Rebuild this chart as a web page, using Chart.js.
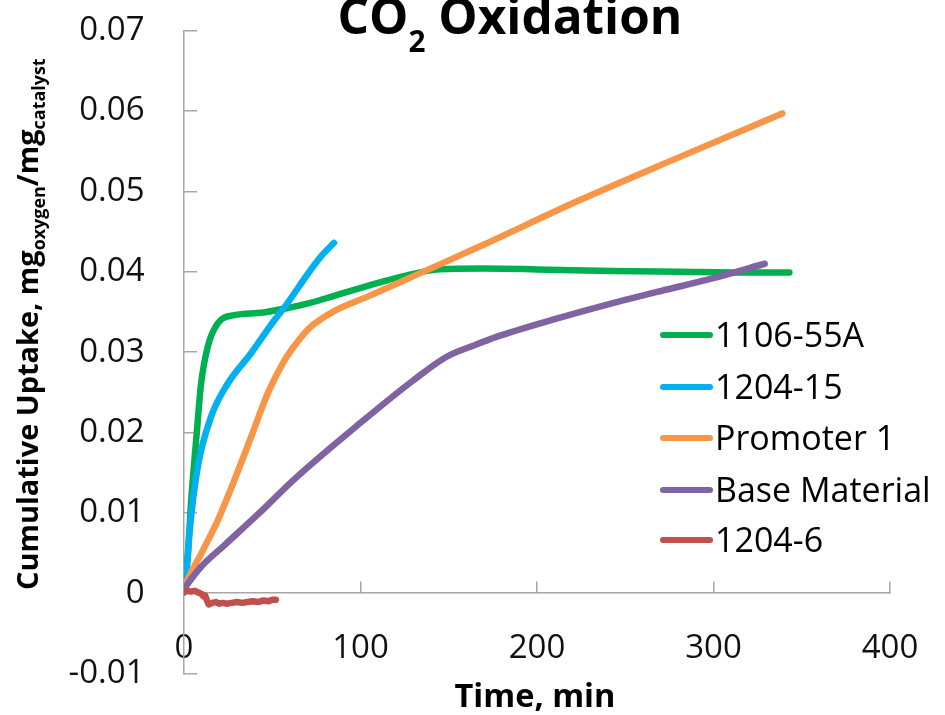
<!DOCTYPE html>
<html>
<head>
<meta charset="utf-8">
<script src="https://cdn.jsdelivr.net/npm/chart.js@4.4.1/dist/chart.umd.min.js"></script>
<style>
html,body{margin:0;padding:0;background:#ffffff;}
#wrap{width:945px;height:715px;position:relative;}
</style>
</head>
<body>
<div id="wrap"><canvas id="c" width="945" height="715"></canvas></div>
<script>
// ---------- DATA ----------
const seriesNames  = ['1106-55A', '1204-15', 'Promoter 1', 'Base Material', '1204-6'];
const seriesColors = ['#00b050', '#00b0f0', '#f79646', '#8064a2', '#c0504d'];

const time1106 = [0, 1, 2.2, 4.1, 6.9, 9.7, 13.5, 19.2, 28.6, 43.8, 58.7, 71, 85, 105, 125, 145, 170, 200, 243, 280, 320, 343];
const uptake1106 = [0.0005, 0.0025, 0.0049, 0.0116, 0.0191, 0.0261, 0.0307, 0.0336, 0.0346, 0.0349, 0.0355, 0.0361, 0.0370, 0.0383, 0.0395, 0.0403, 0.0404, 0.0403, 0.0401, 0.0400, 0.0399, 0.0399];

const time120415 = [0, 1, 3.1, 7.8, 15.4, 24.8, 38.1, 51.3, 57, 71, 78, 85];
const uptake120415 = [0.0005, 0.0012, 0.0075, 0.0157, 0.0220, 0.0261, 0.0299, 0.0340, 0.0356, 0.0400, 0.0420, 0.0436];

const timePromoter = [0, 1.2, 9.7, 19.2, 28.6, 38.1, 47.5, 57, 62.6, 71, 85, 105, 133.5, 170, 224, 281, 339];
const uptakePromoter = [0.0003, 0.0012, 0.0049, 0.0091, 0.0141, 0.0195, 0.0249, 0.0290, 0.0308, 0.0330, 0.0351, 0.0370, 0.0398, 0.0434, 0.0489, 0.0543, 0.0597];

const timeBase = [0, 1.2, 9.7, 23, 41.8, 62.6, 100, 130, 148.6, 165, 177, 210, 243, 270, 300, 329];
const uptakeBase = [0.0005, 0.0009, 0.0033, 0.0060, 0.0098, 0.0142, 0.0212, 0.0265, 0.0294, 0.0309, 0.0319, 0.0341, 0.0361, 0.0376, 0.0392, 0.0410];

const time12046 = [0, 2, 4, 6, 8, 10, 11, 12, 13, 14, 16, 18, 20, 22, 24, 27, 30, 33, 36, 39, 42, 45, 48, 50, 52];
const uptake12046 = [0.0001, 0.0003, 0.0002, 0.0003, 0.0001, -0.0001, -0.0004, -0.0003, -0.0009, -0.0014, -0.0012, -0.0011, -0.0013, -0.0012, -0.0013, -0.0012, -0.0011, -0.0012, -0.0011, -0.0010, -0.0011, -0.0009, -0.0010, -0.0008, -0.0008];

const seriesTimes   = [time1106, time120415, timePromoter, timeBase, time12046];
const seriesUptakes = [uptake1106, uptake120415, uptakePromoter, uptakeBase, uptake12046];

const xMin = 0, xMax = 400, xStep = 100;
const yMin = -0.01, yMax = 0.07, yStep = 0.01;

const chartTitleParts = [{t: 'CO', s: 1}, {t: '2', s: 0.6, dy: 0.36}, {t: ' Oxidation', s: 1}];
const yTitleParts = [{t: 'Cumulative Uptake, mg', s: 1}, {t: 'oxygen', s: 0.62, dy: 0.25}, {t: '/mg', s: 1}, {t: 'catalyst', s: 0.62, dy: 0.25}];
const xTitleParts = [{t: 'Time, min', s: 1}];

// ---------- helpers ----------
const FAMILY = '"Open Sans", "Liberation Sans", sans-serif';
const AXIS_COLOR = '#a6a6a6';

function toPoints(ts, vs) { return ts.map((t, i) => ({x: t, y: vs[i]})); }

function richWidth(ctx, parts, size, weight) {
  let w = 0;
  for (const p of parts) { ctx.font = weight + ' ' + (size * p.s) + 'px ' + FAMILY; w += ctx.measureText(p.t).width; }
  return w;
}
function drawRich(ctx, parts, cx, by, targetW, weight, color) {
  const base = 40;
  const size = base * targetW / richWidth(ctx, parts, base, weight);
  let x = cx - targetW / 2;
  ctx.fillStyle = color; ctx.textAlign = 'left'; ctx.textBaseline = 'alphabetic';
  for (const p of parts) {
    ctx.font = weight + ' ' + (size * p.s) + 'px ' + FAMILY;
    ctx.fillText(p.t, x, by + (p.dy || 0) * size);
    x += ctx.measureText(p.t).width;
  }
}

const decor = {
  id: 'decor',
  afterDraw(chart) {
    const ctx = chart.ctx;
    ctx.save();
    // chart title
    drawRich(ctx, chartTitleParts, 510, 34, 345, 'bold', '#000');
    // x axis title
    drawRich(ctx, xTitleParts, 535, 707, 161, 'bold', '#000');
    // y axis title (rotated)
    ctx.save();
    ctx.translate(38, 324);
    ctx.rotate(-Math.PI / 2);
    drawRich(ctx, yTitleParts, 0, 0, 532, 'bold', '#000');
    ctx.restore();
    // legend
    const rowY = [335, 387, 438, 490, 540];
    chart.data.datasets.forEach((ds, i) => {
      const y = rowY[i];
      ctx.strokeStyle = ds.borderColor; ctx.lineWidth = 6; ctx.lineCap = 'round';
      ctx.beginPath(); ctx.moveTo(663, y); ctx.lineTo(710, y); ctx.stroke();
      ctx.fillStyle = '#000'; ctx.font = '34px ' + FAMILY;
      ctx.textAlign = 'left'; ctx.textBaseline = 'alphabetic';
      ctx.fillText(ds.label, 715, y + 12);
    });
    ctx.restore();
  }
};

const datasets = seriesNames.map((name, i) => ({
  label: name,
  data: toPoints(seriesTimes[i], seriesUptakes[i]),
  borderColor: seriesColors[i],
  backgroundColor: seriesColors[i],
  borderWidth: 6.5,
  borderCapStyle: 'round',
  borderJoinStyle: 'round',
  showLine: true,
  pointRadius: 0,
  pointHoverRadius: 0,
  cubicInterpolationMode: i === 4 ? 'default' : 'monotone',
  tension: 0,
  order: seriesNames.length - i
}));

new Chart(document.getElementById('c'), {
  type: 'scatter',
  data: {datasets},
  options: {
    responsive: false,
    animation: false,
    devicePixelRatio: 1,
    layout: {padding: {top: 30.7, right: 55, bottom: 41.4, left: 0}},
    plugins: {legend: {display: false}, tooltip: {enabled: false}, title: {display: false}},
    scales: {
      x: {
        type: 'linear',
        min: xMin, max: xMax,
        position: {y: 0},
        afterFit(s) { s.paddingLeft = 0; s.paddingRight = 0; },
        ticks: {stepSize: xStep, color: '#111', font: {family: FAMILY, size: 33}, padding: 48, maxRotation: 0},
        grid: {display: true, drawOnChartArea: false, drawTicks: true, tickLength: -12, color: AXIS_COLOR, lineWidth: 1.5},
        border: {display: true, color: AXIS_COLOR, width: 1.5}
      },
      y: {
        type: 'linear',
        min: yMin, max: yMax,
        position: 'left',
        afterFit(s) { s.width = 184; s.paddingTop = 0; s.paddingBottom = 0; },
        ticks: {
          stepSize: yStep, color: '#111', font: {family: FAMILY, size: 33}, padding: 52.5,
          callback: v => String(Number(v.toFixed(2)))
        },
        grid: {display: true, drawOnChartArea: false, drawTicks: true, tickLength: -13, color: AXIS_COLOR, lineWidth: 1.5},
        border: {display: true, color: AXIS_COLOR, width: 1.5}
      }
    }
  },
  plugins: [decor]
});
</script>
</body>
</html>
